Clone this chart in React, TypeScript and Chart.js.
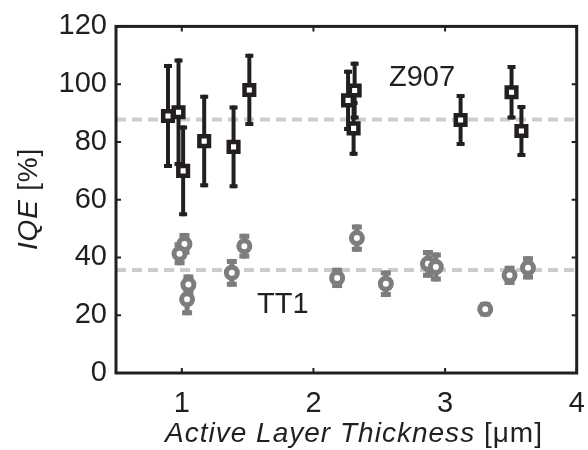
import React, { useEffect, useRef } from "react";
import { Chart, registerables } from "chart.js";

Chart.register(...registerables);

// ---- data ----
const z907X = [0.895, 0.975, 1.01, 1.17, 1.393, 1.513, 2.263, 2.313, 2.305, 3.118, 3.505, 3.58];
const z907Y = [89, 90.3, 70, 80.3, 78.3, 98, 94.4, 97.8, 84.7, 87.6, 97.2, 83.8];
const z907Err = [18, 18.6, 15.7, 16, 14.3, 12.5, 10.6, 10, 9.5, 9, 9.4, 9];

const tt1X = [1.02, 0.983, 1.05, 1.04, 1.38, 1.475, 2.18, 2.33, 2.55, 2.87, 2.93, 3.305, 3.49, 3.63];
const tt1Y = [44.7, 41.3, 30.6, 25.5, 34.7, 43.9, 32.9, 46.7, 30.9, 37.8, 36.7, 22.1, 33.8, 36.4];
const tt1Err = [3.8, 4, 3.5, 5.5, 4.8, 4.3, 3.5, 4.7, 4.6, 4.8, 5, 2.5, 3.3, 4];

const z907Mean = 87.8;
const tt1Mean = 35.7;
const xRange = [0.5, 4];
const yRange = [0, 120];
const xTicks = [1, 2, 3, 4];
const yTicks = [0, 20, 40, 60, 80, 100, 120];

const DARK = "#231f20";
const GRAY = "#7d7d7d";
const DASH = "#cccccc";
const FONT = "'Liberation Sans', Arial, Helvetica, sans-serif";

const errorBars: Record<string, { xs: number[]; ys: number[]; es: number[]; color: string; width: number; cap: number }> = {
  Z907: { xs: z907X, ys: z907Y, es: z907Err, color: DARK, width: 4, cap: 8 },
  TT1: { xs: tt1X, ys: tt1Y, es: tt1Err, color: GRAY, width: 5, cap: 10 },
};

// draws mixed italic/normal text fitted to a target width
function drawMixed(ctx: any, italicPart: string, normalPart: string, size: number, cx: number, baseY: number, targetW: number) {
  ctx.font = `italic ${size}px ${FONT}`;
  const wi0 = ctx.measureText(italicPart).width;
  ctx.font = `${size}px ${FONT}`;
  const wn0 = ctx.measureText(normalPart).width;
  const n = italicPart.length + normalPart.length;
  const ls = Math.max(0, (targetW - wi0 - wn0) / n);
  ctx.letterSpacing = `${ls}px`;
  ctx.font = `italic ${size}px ${FONT}`;
  const wi = ctx.measureText(italicPart).width;
  ctx.font = `${size}px ${FONT}`;
  const wn = ctx.measureText(normalPart).width;
  const sx = cx - (wi + wn) / 2;
  ctx.textAlign = "left";
  ctx.textBaseline = "alphabetic";
  ctx.font = `italic ${size}px ${FONT}`;
  ctx.fillText(italicPart, sx, baseY);
  ctx.font = `${size}px ${FONT}`;
  ctx.fillText(normalPart, sx + wi, baseY);
  ctx.letterSpacing = "0px";
}

const customPlugin = {
  id: "custom",
  beforeDatasetDraw(chart: any, args: any) {
    const ds = chart.data.datasets[args.index];
    const eb = errorBars[ds.label];
    if (!eb) return;
    const xs = chart.scales.x;
    const ys = chart.scales.y;
    const ctx = chart.ctx;
    ctx.save();
    ctx.strokeStyle = eb.color;
    ctx.lineWidth = eb.width;
    ctx.lineCap = "butt";
    for (let i = 0; i < eb.xs.length; i++) {
      const px = xs.getPixelForValue(eb.xs[i]);
      const top = ys.getPixelForValue(eb.ys[i] + eb.es[i]);
      const bot = ys.getPixelForValue(eb.ys[i] - eb.es[i]);
      ctx.beginPath();
      ctx.moveTo(px, top);
      ctx.lineTo(px, bot);
      ctx.stroke();
      ctx.beginPath();
      ctx.moveTo(px - eb.cap / 2, top + eb.width / 2);
      ctx.lineTo(px + eb.cap / 2, top + eb.width / 2);
      ctx.moveTo(px - eb.cap / 2, bot - eb.width / 2);
      ctx.lineTo(px + eb.cap / 2, bot - eb.width / 2);
      ctx.stroke();
    }
    ctx.restore();
  },
  afterDraw(chart: any) {
    const ctx = chart.ctx;
    const a = chart.chartArea;
    const xs = chart.scales.x;
    const ys = chart.scales.y;
    ctx.save();
    // box
    ctx.strokeStyle = DARK;
    ctx.lineWidth = 3;
    ctx.strokeRect(a.left, a.top, a.right - a.left, a.bottom - a.top);
    // inward ticks
    const tl = 5;
    ctx.lineWidth = 2;
    ctx.beginPath();
    for (const t of xTicks) {
      const px = xs.getPixelForValue(t);
      ctx.moveTo(px, a.bottom);
      ctx.lineTo(px, a.bottom - tl);
      ctx.moveTo(px, a.top);
      ctx.lineTo(px, a.top + tl);
    }
    for (const t of yTicks) {
      const py = ys.getPixelForValue(t);
      ctx.moveTo(a.left, py);
      ctx.lineTo(a.left + tl, py);
      ctx.moveTo(a.right, py);
      ctx.lineTo(a.right - tl, py);
    }
    ctx.stroke();

    // annotations
    ctx.fillStyle = DARK;
    ctx.font = `29px ${FONT}`;
    ctx.textAlign = "left";
    ctx.textBaseline = "alphabetic";
    ctx.fillText("Z907", 389, 86);
    ctx.fillText("TT1", 257, 313);

    // x title
    drawMixed(ctx, "Active Layer Thickness ", "[\u03bcm]", 28, 354, 442, 378);

    // y title rotated
    ctx.save();
    ctx.translate(36.5, 199);
    ctx.rotate(-Math.PI / 2);
    drawMixed(ctx, "IQE ", "[%]", 28, 0, 0, 102);
    ctx.restore();
    ctx.restore();
  },
};

export default function App() {
  const ref = useRef<HTMLCanvasElement | null>(null);
  useEffect(() => {
    if (!ref.current) return;
    const chart = new Chart(ref.current, {
      type: "scatter",
      data: {
        datasets: [
          {
            type: "line",
            label: "Z907 mean",
            data: [
              { x: xRange[0], y: z907Mean },
              { x: xRange[1], y: z907Mean },
            ],
            borderColor: DASH,
            borderWidth: 4,
            borderDash: [10, 6],
            pointRadius: 0,
            order: 10,
          },
          {
            type: "line",
            label: "TT1 mean",
            data: [
              { x: xRange[0], y: tt1Mean },
              { x: xRange[1], y: tt1Mean },
            ],
            borderColor: DASH,
            borderWidth: 4,
            borderDash: [10, 6],
            pointRadius: 0,
            order: 10,
          },
          {
            label: "Z907",
            data: z907X.map((x, i) => ({ x, y: z907Y[i] })),
            pointStyle: "rect",
            pointRadius: 6.8,
            borderWidth: 4.5,
            borderColor: DARK,
            backgroundColor: "#ffffff",
            order: 1,
          },
          {
            label: "TT1",
            data: tt1X.map((x, i) => ({ x, y: tt1Y[i] })),
            pointStyle: "circle",
            pointRadius: 5.5,
            borderWidth: 5,
            borderColor: GRAY,
            backgroundColor: "#ffffff",
            order: 2,
          },
        ],
      } as any,
      options: {
        animation: false,
        responsive: false,
        layout: { padding: { top: 25, right: 6, left: 0, bottom: 0 } },
        plugins: { legend: { display: false }, tooltip: { enabled: false } },
        scales: {
          x: {
            type: "linear",
            min: xRange[0],
            max: xRange[1],
            afterBuildTicks: (s: any) => {
              s.ticks = xTicks.map((v) => ({ value: v }));
            },
            afterFit: (s: any) => {
              s.height = 77;
              s.paddingLeft = 0;
              s.paddingRight = 0;
            },
            grid: { display: false, drawTicks: false },
            border: { display: false },
            ticks: {
              color: DARK,
              font: { family: FONT, size: 29 },
              padding: 14,
              maxRotation: 0,
            },
          },
          y: {
            type: "linear",
            min: yRange[0],
            max: yRange[1],
            afterBuildTicks: (s: any) => {
              s.ticks = yTicks.map((v) => ({ value: v }));
            },
            afterFit: (s: any) => {
              s.width = 116;
            },
            grid: { display: false, drawTicks: false },
            border: { display: false },
            ticks: {
              color: DARK,
              font: { family: FONT, size: 29 },
              padding: 9,
            },
          },
        },
      } as any,
      plugins: [customPlugin],
    });
    return () => chart.destroy();
  }, []);
  return (
    <div style={{ position: "absolute", left: 0, top: 0, width: 588, height: 450, background: "#fff" }}>
      <canvas ref={ref} width={588} height={450} style={{ display: "block" }} />
    </div>
  );
}
